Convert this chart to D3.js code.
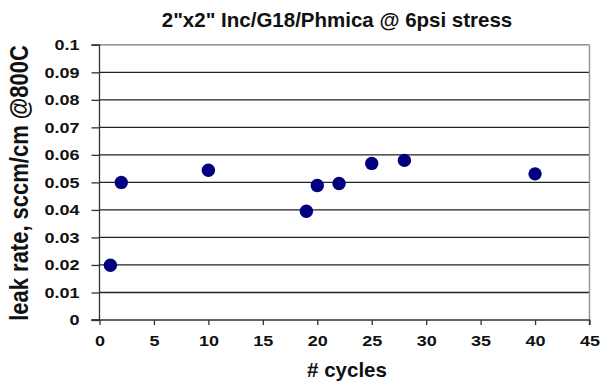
<!DOCTYPE html>
<html><head><meta charset="utf-8">
<script src="https://cdn.jsdelivr.net/npm/d3@7"></script>
<style>body{margin:0;background:#fff;}svg{display:block;font-family:"Liberation Sans",Arial,sans-serif;}</style>
</head><body>
<svg id="c" width="604" height="386"></svg>
<script>
const cycles = [1, 2, 10, 19, 20, 22, 25, 28, 40];
const leakRate = [0.0199, 0.0500, 0.0544, 0.0395, 0.0489, 0.0496, 0.0569, 0.0580, 0.0531];
const xTicks = [0,5,10,15,20,25,30,35,40,45];
const yTicks = [0,0.01,0.02,0.03,0.04,0.05,0.06,0.07,0.08,0.09,0.1];
const title = '2"x2" Inc/G18/Phmica @ 6psi stress';
const xLabel = '# cycles';
const yLabel = 'leak rate, sccm/cm @800C';

const svg = d3.select('#c');
const x = d3.scaleLinear().domain([0,45]).range([99.5,589.5]);
const y = d3.scaleLinear().domain([0,0.1]).range([320,44.8]);

// gridlines
svg.append('g').selectAll('line').data(yTicks.filter(d=>d>0)).join('line')
  .attr('x1', x(0)).attr('x2', x(45)).attr('y1', d=>y(d)).attr('y2', d=>y(d))
  .attr('stroke', d=> d===0.1 ? '#777' : '#222').attr('stroke-width', 1.3);
// right border
svg.append('line').attr('x1', x(45)).attr('x2', x(45)).attr('y1', y(0.1)).attr('y2', y(0))
  .attr('stroke','#999').attr('stroke-width',1.5);

const sx = 1.2;
const yAxis = d3.axisLeft(y).tickValues(yTicks).tickSize(8).tickPadding(8.7)
  .tickFormat(d => d===0 ? '0' : d3.format('~g')(+d.toFixed(2)));
const gy = svg.append('g').attr('transform', `translate(${x(0)},0)`).call(yAxis);
const xAxis = d3.axisBottom(x).tickValues(xTicks).tickSize(5).tickPadding(10).tickFormat(d3.format('d'));
const gx = svg.append('g').attr('transform', `translate(0,${y(0)})`).call(xAxis);
[gy,gx].forEach(g=>{
  g.select('.domain').attr('stroke','#333').attr('stroke-width',1.3);
  g.selectAll('.tick line').attr('stroke','#333').attr('stroke-width',1.3);
  g.selectAll('.tick text').attr('fill','#111').attr('font-size',15).attr('font-weight','bold')
   .attr('font-family','"Liberation Sans",Arial,sans-serif')
   .attr('transform', `scale(${sx},1)`);
});
gy.select('.domain').attr('d', `M-8,${y(0.1)}H0V${y(0)}H-8`);
gx.select('.domain').attr('d', `M${x(0)-8},0H${x(45)}V5`);

svg.append('g').selectAll('circle').data(cycles.map((c,i)=>[c,leakRate[i]])).join('circle')
  .attr('cx', d=>x(d[0])).attr('cy', d=>y(d[1])).attr('r', 6.7).attr('fill', '#000080');

svg.append('text').attr('x', 337).attr('y', 26.5).attr('text-anchor','middle')
  .attr('font-size',20.5).attr('font-weight','bold').attr('fill','#111').text(title);
svg.append('text').attr('x', 347).attr('y', 377).attr('text-anchor','middle')
  .attr('font-size',20.5).attr('font-weight','bold').attr('fill','#111').text(xLabel);
svg.append('text').attr('transform', `translate(27.5,${183}) rotate(-90) scale(1,1.15)`).attr('text-anchor','middle')
  .attr('font-size',22).attr('font-weight','bold').attr('fill','#111').text(yLabel);
</script>
</body></html>
